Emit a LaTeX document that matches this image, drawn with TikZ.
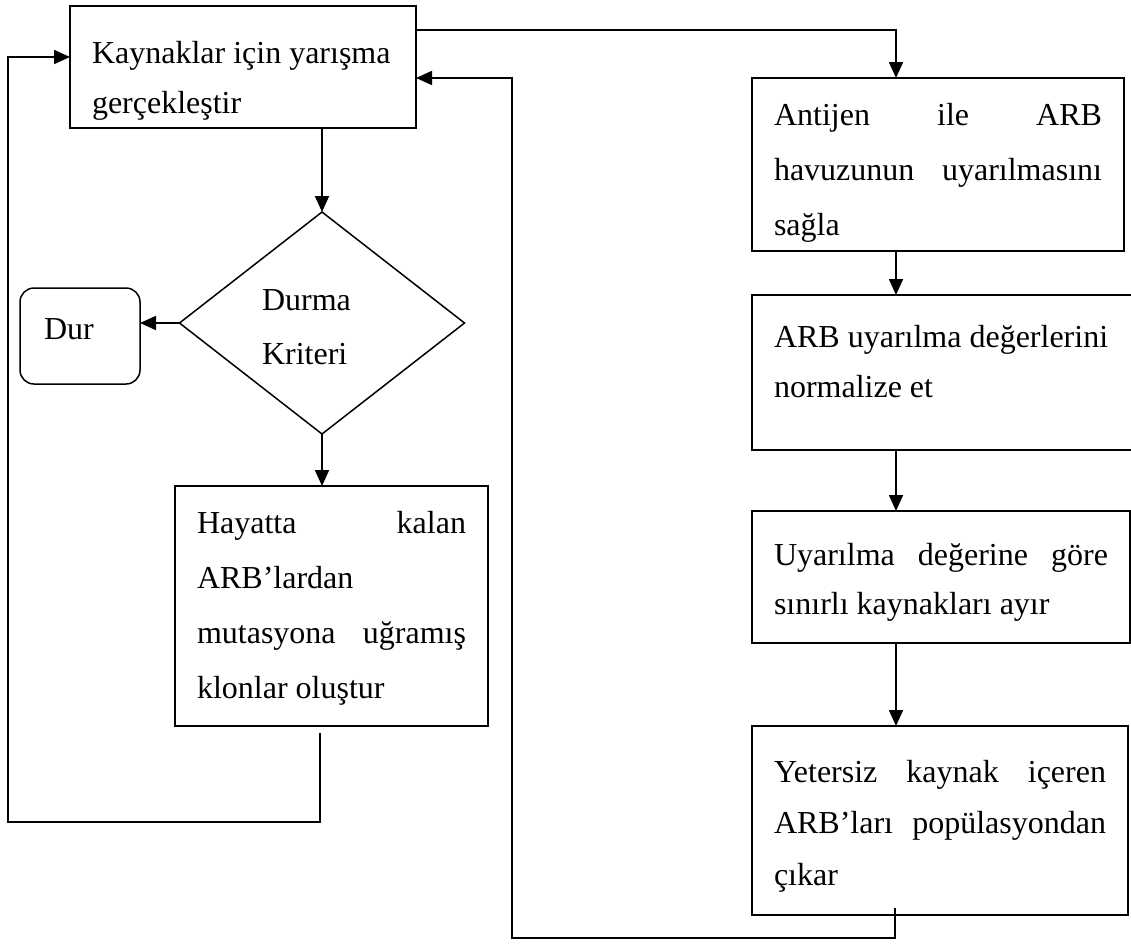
\documentclass[tikz,border=0pt]{standalone}
\usepackage{fontspec}
\setmainfont{Liberation Serif}
\usetikzlibrary{shapes.geometric,arrows.meta}

% text block of a process box: width, height, first baseline, line skip, lines
\newcommand\boxtext[5]{\parbox[c][#2][t]{#1}{\fontsize{32}{#4}\selectfont\vspace*{\dimexpr #3-0.7\baselineskip\relax}#5}}
% justified line and left-aligned line
\newcommand\jline[1]{\strut\makebox[\linewidth][s]{#1}}
\newcommand\lline[1]{\strut\makebox[\linewidth][l]{#1}}

\begin{document}
\begin{tikzpicture}[x=1pt,y=-1pt,
  every node/.style={inner sep=0pt, outer sep=0pt},
  procbox/.style={draw, line width=2pt, rectangle},
  decision/.style={draw, line width=1.5pt, diamond},
  endbox/.style={draw, line width=1.5pt, rectangle, rounded corners=14pt},
  link/.style={line width=1.8pt, -{Triangle[length=16pt,width=14pt]}}]

\fill[white] (0,0) rectangle (1131,945);
\useasboundingbox (0,0) rectangle (1131,945);

% left column
\node[procbox, minimum width=346pt, minimum height=122pt] (A) at (243,67)
  {\boxtext{302pt}{122pt}{57pt}{50pt}{\lline{Kaynaklar için yarışma}\\\lline{gerçekleştir}}};

\node[decision, minimum width=285pt, minimum height=222pt] (dia) at (322,323)
  {\parbox{120pt}{\fontsize{32}{54}\selectfont\vspace*{8pt}Durma\\Kriteri}};

\node[endbox, minimum width=120pt, minimum height=96pt, text height=24pt, text depth=18pt,
  font=\fontsize{32}{38}\selectfont] (dur) at (80,336) {\makebox[72pt][l]{Dur}};

\node[procbox, minimum width=313pt, minimum height=240pt] (hay) at (331.5,606)
  {\boxtext{269pt}{240pt}{47pt}{55pt}{\jline{Hayatta kalan}\\\lline{ARB’lardan}\\\jline{mutasyona uğramış}\\\lline{klonlar oluştur}}};

% right column
\node[procbox, minimum width=372pt, minimum height=173pt] (ant) at (938,164.5)
  {\boxtext{328pt}{173pt}{47pt}{55pt}{\jline{Antijen ile ARB}\\\jline{havuzunun uyarılmasını}\\\lline{sağla}}};

\node[procbox, minimum width=380pt, minimum height=155pt] (arb) at (942,372.5)
  {\boxtext{336pt}{155pt}{52pt}{50pt}{\lline{ARB uyarılma değerlerini}\\\lline{normalize et}}};

\node[procbox, minimum width=378pt, minimum height=132pt] (uya) at (941,577)
  {\boxtext{334pt}{132pt}{54pt}{49pt}{\jline{Uyarılma değerine göre}\\\lline{sınırlı kaynakları ayır}}};

\node[procbox, minimum width=376pt, minimum height=189pt] (yet) at (940,820.5)
  {\boxtext{332pt}{189pt}{56pt}{51.5pt}{\jline{Yetersiz kaynak içeren}\\\jline{ARB’ları popülasyondan}\\\lline{çıkar}}};

% routing points of the connectors
\coordinate (spine) at (896,0);
\coordinate (toprow) at (0,30);
\coordinate (retrow) at (0,78);
\coordinate (leftrow) at (0,57);
\coordinate (yetout) at (895,908);
\coordinate (botcorner) at (512,938);
\coordinate (hayout) at (320,733);
\coordinate (lowcorner) at (8,822);

% connectors
\draw[link] (A.east |- toprow) -| (ant.north -| spine);
\draw[link] (ant.south -| spine) -- (arb.north -| spine);
\draw[link] (arb.south -| spine) -- (uya.north -| spine);
\draw[link] (uya.south -| spine) -- (yet.north -| spine);
\draw[link] (yetout) |- (botcorner) |- (A.east |- retrow);
\draw[link] (A.south -| dia.north) -- (dia.north);
\draw[link] (dia.west) -- (dur.east |- dia.west);
\draw[link] (dia.south) -- (hay.north -| dia.south);
\draw[link] (hayout) |- (lowcorner) |- (A.west |- leftrow);
\end{tikzpicture}
\end{document}
